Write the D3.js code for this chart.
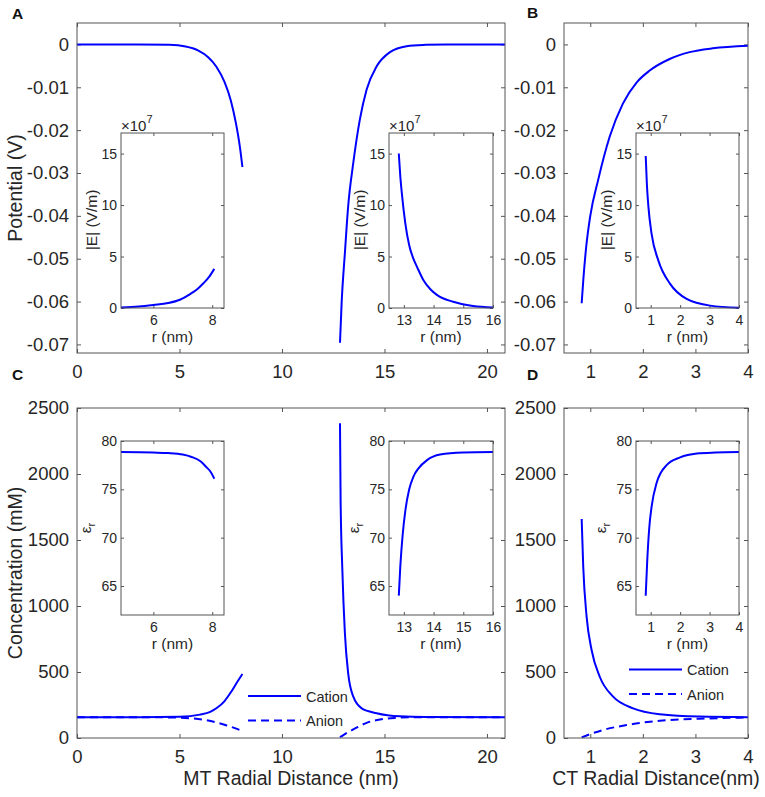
<!DOCTYPE html>
<html>
<head>
<meta charset="utf-8">
<script src="https://cdn.jsdelivr.net/npm/d3@7"></script>
<style>
  body { margin: 0; background: #fff; }
  svg { display: block; }
</style>
</head>
<body>
<script>
// ---- data ----
// potential (V) along the MT radius, inside and outside the wall
var mtInR   = [0, 3, 4.5, 5.3, 5.9, 6.4, 6.8, 7.2, 7.5, 7.75, 7.95, 8.07];
var mtInPot = [0, 0, -0.0001, -0.0005, -0.0014, -0.003, -0.0052, -0.0088, -0.013, -0.0183, -0.024, -0.0286];
var mtOutR   = [12.83, 12.91, 13.07, 13.23, 13.48, 13.8, 14.13, 14.62, 15.27, 16.08, 17, 18, 20.88];
var mtOutPot = [-0.0696, -0.0603, -0.0486, -0.0377, -0.0276, -0.0175, -0.0105, -0.0051, -0.0018, -0.0004, -0.0001, 0, 0];
// potential (V) around the CT
var ctR   = [0.836, 0.87, 0.92, 1.0, 1.15, 1.37, 1.62, 1.88, 2.13, 2.51, 2.89, 3.33, 4.0];
var ctPot = [-0.0604, -0.0545, -0.0475, -0.04, -0.0316, -0.0215, -0.0138, -0.0089, -0.0061, -0.0034, -0.0018, -0.0009, -0.0003];

// concentrations (mM)
var mtInCatR    = [0, 3, 5, 6, 6.5, 6.8, 7.2, 7.5, 7.8, 8.07];
var mtInCation  = [158, 158, 161, 177, 198, 225, 280, 345, 420, 485];
var mtInAnR     = [0, 3, 4.5, 5.5, 6.2, 6.8, 7.3, 7.7, 8.07];
var mtInAnion   = [158, 158, 156, 150, 138, 118, 95, 75, 52];
var mtOutCatR   = [12.83, 12.86, 12.94, 13.07, 13.23, 13.48, 13.89, 14.62, 15.76, 17, 20.88];
var mtOutCation = [2384, 1803, 1298, 793, 490, 313, 225, 188, 164, 159, 158];
var mtOutAnR    = [12.83, 13.05, 13.48, 14.13, 14.78, 15.5, 16.5, 20.88];
var mtOutAnion  = [6, 28, 65, 115, 140, 152, 157, 158];
var ctCatR   = [0.836, 0.866, 0.93, 1.025, 1.18, 1.435, 1.815, 2.32, 3.08, 4.0];
var ctCation = [1659, 1298, 919, 667, 464, 313, 225, 180, 162, 158];
var ctAnR    = [0.836, 1.0, 1.246, 1.69, 2.32, 3.08, 4.0];
var ctAnion  = [5, 30, 61, 98, 131, 146, 155];

// |E| insets (x10^7 V/m)
var eInR  = [4.9, 5.5, 6.0, 6.5, 6.9, 7.25, 7.5, 7.7, 7.9, 8.07];
var eIn   = [0.05, 0.15, 0.3, 0.48, 0.8, 1.35, 1.85, 2.4, 3.05, 3.8];
var eOutR = [12.83, 12.88, 12.93, 13.05, 13.18, 13.32, 13.45, 13.65, 13.9, 14.1, 14.66, 15.33, 16];
var eOut  = [15.0, 12.8, 11.2, 8.2, 6.1, 4.8, 3.95, 2.75, 1.8, 1.3, 0.6, 0.2, 0.05];
var eCtR  = [0.83, 0.87, 0.92, 1.03, 1.26, 1.66, 2.22, 3.02, 4.0];
var eCt   = [14.76, 12.0, 9.9, 7.2, 4.6, 2.34, 0.88, 0.23, 0.03];

// relative permittivity insets
var epsInR  = [4.9, 6.0, 6.5, 7.0, 7.3, 7.6, 7.8, 7.95, 8.07];
var epsIn   = [78.85, 78.8, 78.75, 78.6, 78.35, 77.9, 77.3, 76.8, 76.1];
var epsOutR = [12.83, 12.88, 12.96, 13.05, 13.18, 13.32, 13.5, 13.77, 14.22, 15, 16];
var epsOut  = [64.0, 67.0, 70.3, 72.8, 75.0, 76.3, 77.2, 78.0, 78.6, 78.8, 78.85];
var epsCtR  = [0.83, 0.88, 0.95, 1.03, 1.2, 1.54, 2.0, 2.57, 3.2, 4.0];
var epsCt   = [64, 67.5, 71, 73.2, 75.65, 77.5, 78.3, 78.7, 78.8, 78.85];

// ticks
var mtTicks   = [0, 5, 10, 15, 20];
var ctTicks   = [1, 2, 3, 4];
var potTicks  = [-0.07, -0.06, -0.05, -0.04, -0.03, -0.02, -0.01, 0];
var concTicks = [0, 500, 1000, 1500, 2000, 2500];
var eTicks    = [0, 5, 10, 15];
var epsTicks  = [65, 70, 75, 80];
var rInTicks  = [6, 8];
var rOutTicks = [13, 14, 15, 16];
var rCtTicks  = [1, 2, 3, 4];
var legendItems = ["Cation", "Anion"];

// ---- drawing ----
var width = 765, height = 797;
var FONT = "'Liberation Sans', Arial, Helvetica, sans-serif";
var BLUE = "#0000ff", AX = "#555", TXT = "#262626";

var svg = d3.select("body").append("svg")
    .attr("width", width)
    .attr("height", height)
    .attr("font-family", FONT);

function zip(a, b) { return a.map(function(d, i) { return [d, b[i]]; }); }
function potFmt(d) { return Math.abs(d) < 1e-9 ? "0" : "-" + Math.abs(d).toFixed(2); }

// box with inward ticks on all four sides, MATLAB style
function frame(g, x, y, o) {
  var xr = x.range(), yr = y.range();
  g.append("rect")
    .attr("x", xr[0]).attr("y", yr[1])
    .attr("width", xr[1] - xr[0]).attr("height", yr[0] - yr[1])
    .attr("fill", "#fff");

  var axes = [
    [d3.axisBottom(x).tickValues(o.xTicks).tickFormat(o.xFmt || d3.format("d")).tickPadding(o.padX), "translate(0," + yr[0] + ")"],
    [d3.axisTop(x).tickValues(o.xTicks).tickFormat(""), "translate(0," + yr[1] + ")"],
    [d3.axisLeft(y).tickValues(o.yTicks).tickFormat(o.yFmt || d3.format("d")).tickPadding(o.padY), "translate(" + xr[0] + ",0)"],
    [d3.axisRight(y).tickValues(o.yTicks).tickFormat(""), "translate(" + xr[1] + ",0)"]
  ];
  axes.forEach(function(a) {
    var ax = g.append("g")
      .attr("transform", a[1])
      .call(a[0].tickSize(-o.tick));
    ax.select(".domain").remove();
    ax.attr("font-size", o.font).attr("font-family", FONT);
    ax.selectAll("line").attr("stroke", AX);
    ax.selectAll("text").attr("fill", TXT);
  });
}

function outline(g, x, y) {
  var xr = x.range(), yr = y.range();
  g.append("rect")
    .attr("x", xr[0]).attr("y", yr[1])
    .attr("width", xr[1] - xr[0]).attr("height", yr[0] - yr[1])
    .attr("fill", "none").attr("stroke", AX).attr("stroke-width", 1);
}

function curve(g, x, y, pts, dashed) {
  var line = d3.line()
    .x(function(d) { return x(d[0]); })
    .y(function(d) { return y(d[1]); })
    .curve(d3.curveMonotoneX);
  g.append("path")
    .attr("d", line(pts))
    .attr("fill", "none")
    .attr("stroke", BLUE)
    .attr("stroke-width", 2)
    .attr("stroke-dasharray", dashed ? "8,5" : null);
}

function vlabel(g, x, y, txt, size) {
  g.append("text")
    .attr("transform", "translate(" + x + "," + y + ") rotate(-90)")
    .attr("text-anchor", "middle")
    .attr("font-size", size)
    .attr("fill", TXT)
    .text(txt);
}

function hlabel(g, x, y, txt, size) {
  g.append("text")
    .attr("x", x).attr("y", y)
    .attr("text-anchor", "middle")
    .attr("font-size", size)
    .attr("fill", TXT)
    .text(txt);
}

// main scales
var xMT = d3.scaleLinear().domain([0, 20.88]).range([77, 505]);
var xCT = d3.scaleLinear().domain([0.5, 4]).range([564, 748]);
var yPot = d3.scaleLinear().domain([-0.072, 0.005]).range([353, 23]);
var yConc = d3.scaleLinear().domain([0, 2500]).range([738, 408]);

var mainOpts = {tick: 4, font: 18.5, padX: 12, padY: 8};

// panel A
var gA = svg.append("g");
frame(gA, xMT, yPot, Object.assign({xTicks: mtTicks, yTicks: potTicks, yFmt: potFmt}, mainOpts));
curve(gA, xMT, yPot, zip(mtInR, mtInPot));
curve(gA, xMT, yPot, zip(mtOutR, mtOutPot));
outline(gA, xMT, yPot);
vlabel(gA, 22, 188, "Potential (V)", 19.5);

// panel B
var gB = svg.append("g");
frame(gB, xCT, yPot, Object.assign({xTicks: ctTicks, yTicks: potTicks, yFmt: potFmt}, mainOpts));
curve(gB, xCT, yPot, zip(ctR, ctPot));
outline(gB, xCT, yPot);

// panel C
var gC = svg.append("g");
frame(gC, xMT, yConc, Object.assign({xTicks: mtTicks, yTicks: concTicks}, mainOpts));
curve(gC, xMT, yConc, zip(mtInCatR, mtInCation));
curve(gC, xMT, yConc, zip(mtInAnR, mtInAnion), true);
curve(gC, xMT, yConc, zip(mtOutCatR, mtOutCation));
curve(gC, xMT, yConc, zip(mtOutAnR, mtOutAnion), true);
outline(gC, xMT, yConc);
vlabel(gC, 22, 573, "Concentration (mM)", 19.5);
hlabel(gC, 291, 785, "MT Radial Distance (nm)", 19.5);

// panel D
var gD = svg.append("g");
frame(gD, xCT, yConc, Object.assign({xTicks: ctTicks, yTicks: concTicks}, mainOpts));
curve(gD, xCT, yConc, zip(ctCatR, ctCation));
curve(gD, xCT, yConc, zip(ctAnR, ctAnion), true);
outline(gD, xCT, yConc);
hlabel(gD, 656, 785, "CT Radial Distance(nm)", 19.5);

// insets
var insetOpts = {tick: 3, font: 14, padX: 7, padY: 4};
var xIn  = d3.scaleLinear().domain([4.9, 8.4]).range([121, 224]);
var xOut = d3.scaleLinear().domain([12.5, 16]).range([389, 493]);
var xCtI = d3.scaleLinear().domain([0.5, 4]).range([636, 739]);
var yE   = d3.scaleLinear().domain([0, 17]).range([308, 133]);
var yEps = d3.scaleLinear().domain([62, 80]).range([615, 441]);

function eInset(x, ticks, r, v) {
  var g = svg.append("g");
  frame(g, x, yE, Object.assign({xTicks: ticks, yTicks: eTicks}, insetOpts));
  curve(g, x, yE, zip(r, v));
  outline(g, x, yE);
  var x0 = x.range()[0], x1 = x.range()[1];
  vlabel(g, x0 - 24, 220, "|E| (V/m)", 15.5);
  hlabel(g, (x0 + x1) / 2, 342, "r (nm)", 15.5);
  var ex = g.append("text").attr("x", x0).attr("y", 130.5)
    .attr("font-size", 15).attr("fill", TXT);
  ex.append("tspan").text("\u00d710");
  ex.append("tspan").attr("dy", -8).attr("font-size", 11).text("7");
}

function epsInset(x, ticks, r, v) {
  var g = svg.append("g");
  frame(g, x, yEps, Object.assign({xTicks: ticks, yTicks: epsTicks}, insetOpts));
  curve(g, x, yEps, zip(r, v));
  outline(g, x, yEps);
  var x0 = x.range()[0], x1 = x.range()[1];
  var t = g.append("text")
    .attr("transform", "translate(" + (x0 - 30) + ",528) rotate(-90)")
    .attr("text-anchor", "middle")
    .attr("font-size", 15).attr("fill", TXT);
  t.append("tspan").text("\u03b5");
  t.append("tspan").attr("dy", 4).attr("font-size", 11).text("r");
  hlabel(g, (x0 + x1) / 2, 649, "r (nm)", 15.5);
}

eInset(xIn, rInTicks, eInR, eIn);
eInset(xOut, rOutTicks, eOutR, eOut);
eInset(xCtI, rCtTicks, eCtR, eCt);
epsInset(xIn, rInTicks, epsInR, epsIn);
epsInset(xOut, rOutTicks, epsOutR, epsOut);
epsInset(xCtI, rCtTicks, epsCtR, epsCt);

// legends
function legend(x0, yTop) {
  var g = svg.append("g");
  legendItems.forEach(function(name, i) {
    var yy = yTop + i * 24.5;
    g.append("line")
      .attr("x1", x0).attr("x2", x0 + 53)
      .attr("y1", yy).attr("y2", yy)
      .attr("stroke", BLUE).attr("stroke-width", 2)
      .attr("stroke-dasharray", i === 1 ? "8,5" : null);
    g.append("text")
      .attr("x", x0 + 58).attr("y", yy + 5.5)
      .attr("font-size", 14.5).attr("fill", TXT)
      .text(name);
  });
}
legend(248, 696);
legend(629, 669.5);

// panel letters
[["A", 12, 19], ["B", 527, 18], ["C", 12, 380], ["D", 527, 380]].forEach(function(p) {
  svg.append("text")
    .attr("x", p[1]).attr("y", p[2])
    .attr("font-size", 15.5).attr("font-weight", "bold")
    .attr("fill", "#111")
    .text(p[0]);
});
</script>
</body>
</html>
